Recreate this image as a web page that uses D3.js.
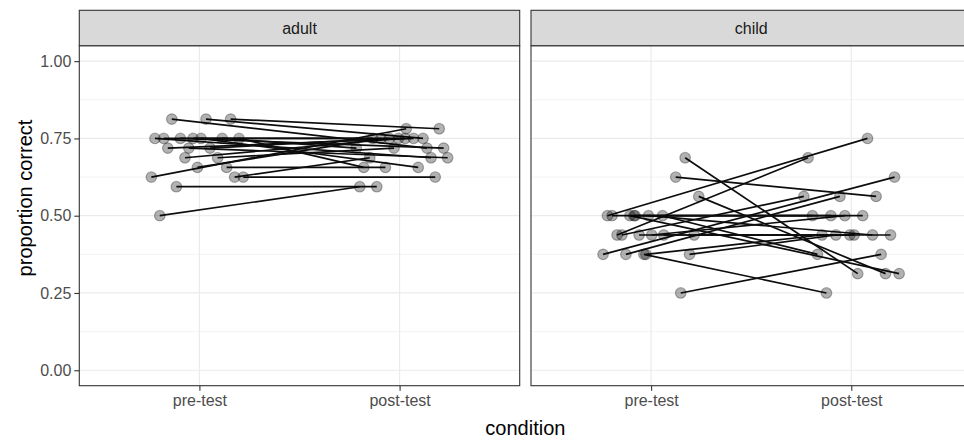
<!DOCTYPE html>
<html>
<head>
<meta charset="utf-8">
<script src="https://cdn.jsdelivr.net/npm/d3@7"></script>
<style>
  body { margin: 0; background: #fff; }
  text { font-family: "Liberation Sans", Arial, sans-serif; }
</style>
</head>
<body>
<div id="chart"></div>
<script>
// data (x = jittered condition position, y = proportion correct)
const groups = ['adult', 'child'];
const conditions = ['pre-test', 'post-test'];
const yTicks = [0, 0.25, 0.5, 0.75, 1];
const yTickLabels = ['0.00', '0.25', '0.50', '0.75', '1.00'];
const yMinor = [0.125, 0.375, 0.625, 0.875];

const adultPreX  = [0.862, 1.033, 1.156, 0.778, 0.822, 0.905, 0.968, 1.008, 1.114, 1.198, 0.842,
                    0.947, 1.053, 0.928, 1.091, 0.990, 1.136, 0.760, 1.176, 1.219, 0.885, 0.802];
const adultPreY  = [0.8125, 0.8125, 0.8125, 0.75, 0.75, 0.75, 0.75, 0.75, 0.75, 0.75, 0.71875,
                    0.71875, 0.71875, 0.6875, 0.6875, 0.65625, 0.65625, 0.625, 0.625, 0.625, 0.59375, 0.5];
const adultPostX = [2.137, 2.117, 2.198, 2.157, 2.028, 2.220, 1.866, 2.093, 1.784, 1.821, 2.070,
                    2.240, 1.949, 1.994, 1.972, 1.907, 1.929, 2.033, 1.851, 2.178, 1.886, 1.801];
const adultPostY = [0.71875, 0.75, 0.78125, 0.6875, 0.75, 0.71875, 0.75, 0.65625, 0.71875, 0.65625, 0.75,
                    0.6875, 0.75, 0.75, 0.71875, 0.75, 0.65625, 0.78125, 0.6875, 0.625, 0.59375, 0.59375];

const childPreX  = [1.170, 1.123, 1.238, 0.782, 0.805, 0.894, 0.920, 0.987, 1.057, 0.830, 0.854,
                    0.940, 1.215, 0.760, 0.874, 0.964, 1.192, 1.148, 1.003, 1.063, 0.914, 0.974];
const childPreY  = [0.6875, 0.625, 0.5625, 0.5, 0.5, 0.5, 0.5, 0.5, 0.5, 0.4375, 0.4375,
                    0.4375, 0.4375, 0.375, 0.375, 0.375, 0.375, 0.25, 0.4375, 0.4375, 0.5, 0.375];
const childPostX = [2.032, 2.124, 2.171, 2.081, 2.057, 2.239, 1.898, 2.106, 1.831, 1.784, 1.763,
                    1.993, 2.196, 2.216, 1.943, 1.876, 1.923, 2.149, 1.968, 2.014, 1.806, 1.854];
const childPostY = [0.3125, 0.5625, 0.3125, 0.75, 0.5, 0.3125, 0.5, 0.4375, 0.375, 0.6875, 0.5625,
                    0.4375, 0.4375, 0.625, 0.5625, 0.25, 0.4375, 0.375, 0.5, 0.4375, 0.5, 0.4375];

// constant values
const w = 964, h = 443;
const stripTop = 10.3, panelTop = 45.7, panelBottom = 385.7;
const panelLeft = [79.3, 531];
const panelWidth = 440.4;
const tickLen = 5;

const svg = d3.select('#chart')
              .append('svg')
              .attr('width', w)
              .attr('height', h)
              .style('background-color', '#fff');

// shared yScale (ggplot adds 5% on each side)
const yScale = d3.scaleLinear()
      .domain([-0.05, 1.05])
      .range([panelBottom, panelTop]);

const facetData = [
  { name: groups[0], preX: adultPreX, preY: adultPreY, postX: adultPostX, postY: adultPostY },
  { name: groups[1], preX: childPreX, preY: childPreY, postX: childPostX, postY: childPostY }
];

facetData.forEach((f, i) => {
  const x0 = panelLeft[i], x1 = panelLeft[i] + panelWidth;

  // Build the xScale for the two discrete conditions
  const xScale = d3.scaleLinear()
        .domain([0.4, 2.6])
        .range([x0, x1]);

  const g = svg.append('g').attr('class', 'panel');

  // grid lines
  g.selectAll('.minor')
    .data(yMinor)
    .enter()
    .append('line')
    .attr('x1', x0).attr('x2', x1)
    .attr('y1', d => yScale(d)).attr('y2', d => yScale(d))
    .attr('stroke', '#ebebeb')
    .attr('stroke-width', 0.6);

  g.selectAll('.major')
    .data(yTicks)
    .enter()
    .append('line')
    .attr('x1', x0).attr('x2', x1)
    .attr('y1', d => yScale(d)).attr('y2', d => yScale(d))
    .attr('stroke', '#ebebeb')
    .attr('stroke-width', 1.2);

  g.selectAll('.vmajor')
    .data([1, 2])
    .enter()
    .append('line')
    .attr('x1', d => xScale(d)).attr('x2', d => xScale(d))
    .attr('y1', panelTop).attr('y2', panelBottom)
    .attr('stroke', '#ebebeb')
    .attr('stroke-width', 1.2);

  const pairs = f.preX.map((d, j) => [[d, f.preY[j]], [f.postX[j], f.postY[j]]]);

  // one line per participant
  g.selectAll('.pair')
    .data(pairs)
    .enter()
    .append('line')
    .attr('x1', d => xScale(d[0][0]))
    .attr('y1', d => yScale(d[0][1]))
    .attr('x2', d => xScale(d[1][0]))
    .attr('y2', d => yScale(d[1][1]))
    .attr('stroke', '#0d0d0d')
    .attr('stroke-width', 1.7);

  const pts = pairs.flat();
  g.selectAll('.pt')
    .data(pts)
    .enter()
    .append('circle')
    .attr('cx', d => xScale(d[0]))
    .attr('cy', d => yScale(d[1]))
    .attr('r', 5.3)
    .attr('fill', '#000')
    .attr('fill-opacity', 0.3)
    .attr('stroke', '#000')
    .attr('stroke-opacity', 0.3)
    .attr('stroke-width', 1.2);

  // panel border
  g.append('rect')
    .attr('x', x0).attr('y', panelTop)
    .attr('width', panelWidth).attr('height', panelBottom - panelTop)
    .attr('fill', 'none')
    .attr('stroke', '#333')
    .attr('stroke-width', 1.1);

  // strip
  g.append('rect')
    .attr('x', x0).attr('y', stripTop)
    .attr('width', panelWidth).attr('height', panelTop - stripTop)
    .attr('fill', '#d9d9d9')
    .attr('stroke', '#333')
    .attr('stroke-width', 1.1);

  g.append('text')
    .attr('x', (x0 + x1) / 2)
    .attr('y', (stripTop + panelTop) / 2)
    .attr('dy', '0.35em')
    .attr('text-anchor', 'middle')
    .attr('fill', '#1a1a1a')
    .style('font-size', '16px')
    .text(f.name);

  // x axis
  const x_axis = d3.axisBottom(xScale)
        .tickValues([1, 2])
        .tickFormat((d, k) => conditions[k])
        .tickSize(tickLen)
        .tickPadding(4);

  const gx = svg.append('g')
        .attr('transform', 'translate(0,' + panelBottom + ')')
        .call(x_axis);
  gx.select('.domain').remove();
  gx.selectAll('line').attr('stroke', '#333').attr('stroke-width', 1.1);
  gx.selectAll('text')
    .attr('fill', '#4d4d4d')
    .style('font-size', '16px')
    .style('font-family', '"Liberation Sans", Arial, sans-serif');

  // y axis only on the first panel
  if (i === 0) {
    const y_axis = d3.axisLeft(yScale)
          .tickValues(yTicks)
          .tickFormat((d, k) => yTickLabels[k])
          .tickSize(tickLen)
          .tickPadding(3);
    const gy = svg.append('g')
          .attr('transform', 'translate(' + x0 + ',0)')
          .call(y_axis);
    gy.select('.domain').remove();
    gy.selectAll('line').attr('stroke', '#333').attr('stroke-width', 1.1);
    gy.selectAll('text')
      .attr('fill', '#4d4d4d')
      .style('font-size', '16px')
      .style('font-family', '"Liberation Sans", Arial, sans-serif');
  }
});

// axis titles
svg.append('text')
  .attr('x', (panelLeft[0] + panelLeft[1] + panelWidth) / 2)
  .attr('y', 428)
  .attr('dy', '0.35em')
  .attr('text-anchor', 'middle')
  .attr('fill', '#000')
  .style('font-size', '20px')
  .text('condition');

svg.append('text')
  .attr('transform', 'translate(25,' + ((stripTop + panelBottom) / 2) + ') rotate(-90)')
  .attr('dy', '0.35em')
  .attr('text-anchor', 'middle')
  .attr('fill', '#000')
  .style('font-size', '20px')
  .text('proportion correct');
</script>
</body>
</html>
